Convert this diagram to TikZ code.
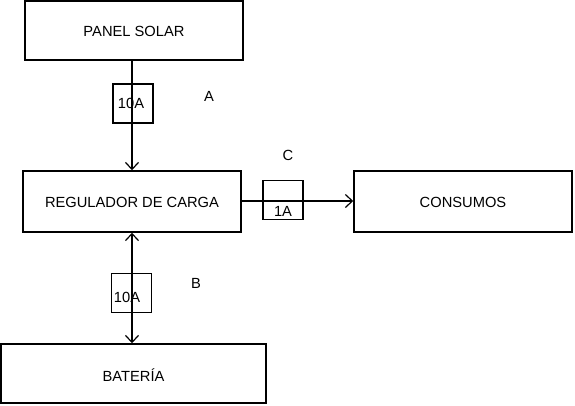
\documentclass[tikz,border=0pt]{standalone}
\usepackage{fontspec}
\setmainfont{Liberation Sans}
\usetikzlibrary{arrows.meta}
\begin{document}
\begin{tikzpicture}[x=1pt,y=-1pt,
  >={Straight Barb[length=7pt,width=13pt,line width=1.2pt]},
  box/.style={draw,line width=1.5pt,inner sep=0pt},
  fuse/.style={draw,line width=1.4pt,inner sep=0pt,minimum width=40pt,minimum height=39pt},
  lbl/.style={font=\fontsize{14.7}{16}\selectfont,inner sep=0pt},
  conn/.style={line width=1.4pt}]
\useasboundingbox (0,0) rectangle (575,405);
\node[box,minimum width=218pt,minimum height=59pt] (panel) at (134,30.5) {};
\node[lbl] at (134,31) {PANEL SOLAR};
\node[box,minimum width=218pt,minimum height=61pt] (reg) at (132,201.5) {};
\node[lbl] at (132,202) {REGULADOR DE CARGA};
\node[box,minimum width=218pt,minimum height=61pt] (cons) at (463,201.5) {};
\node[lbl] at (463,202) {CONSUMOS};
\node[box,minimum width=265pt,minimum height=59pt] (bat) at (133.5,373.5) {};
\node[lbl] at (133.5,375) {BATERÍA};
\node[fuse] (fa) at (133,103.5) {};
\node[lbl] at (131,103) {10A};
\node[fuse] (fb) at (131.5,293) {};
\node[lbl] at (127,297) {10A};
\node[fuse] (fc) at (283,200) {};
\node[lbl] at (283,211) {1A};
\node[lbl] (la) at (209,96) {A};
\node[lbl] (lb) at (196,283) {B};
\node[lbl] (lc) at (288,155) {C};
\coordinate (xa) at (132,0);
\coordinate (yc) at (0,201);
\draw[conn,->] (panel.south -| xa) -- (reg.north -| xa);
\draw[conn,<->] (reg.south -| xa) -- (bat.north -| xa);
\draw[conn,->] (reg.east |- yc) -- (cons.west |- yc);
\end{tikzpicture}
\end{document}
